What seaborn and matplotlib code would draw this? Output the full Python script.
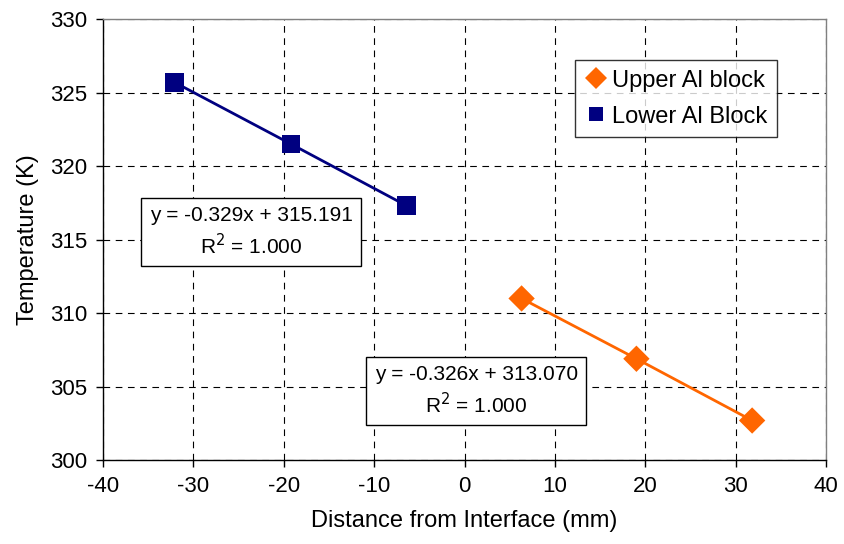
import matplotlib
matplotlib.use("Agg")
import matplotlib.pyplot as plt
import seaborn as sns
import pandas as pd

upper_x = [6.3, 19.0, 31.8]
upper_y = [311.0, 306.9, 302.7]
lower_x = [-32.1, -19.2, -6.4]
lower_y = [325.7, 321.5, 317.3]
series_names = ["Upper Al block", "Lower Al Block"]
eq_upper = "y = -0.326x + 313.070\nR$^2$ = 1.000"
eq_lower = "y = -0.329x + 315.191\nR$^2$ = 1.000"

df = pd.concat([
    pd.DataFrame({"x": upper_x, "y": upper_y, "s": series_names[0]}),
    pd.DataFrame({"x": lower_x, "y": lower_y, "s": series_names[1]}),
])

sns.set_style("white")
plt.rcParams['font.family'] = ['Liberation Sans', 'DejaVu Sans']
plt.rcParams['axes.unicode_minus'] = False
plt.rcParams['text.color'] = 'black'
plt.rcParams['axes.labelcolor'] = 'black'
plt.rcParams['xtick.color'] = 'black'
plt.rcParams['ytick.color'] = 'black'

fig = plt.figure(figsize=(8.44, 5.44), dpi=100)
ax = fig.add_axes([0.122, 0.154, 0.857, 0.811])

palette = {series_names[0]: "#FF6600", series_names[1]: "#000080"}
sns.lineplot(data=df, x="x", y="y", hue="s", palette=palette, ax=ax,
             linewidth=2, legend=False, sort=True)
sns.scatterplot(data=df, x="x", y="y", hue="s", style="s",
                markers={series_names[0]: "D", series_names[1]: "s"},
                palette=palette, s=180, ax=ax, edgecolor="none",
                linewidth=0, zorder=5)

ax.set_xlim(-40, 40)
ax.set_ylim(300, 330)
ax.set_xticks(range(-40, 41, 10))
ax.set_yticks(range(300, 331, 5))
ax.grid(True, color="black", linestyle=(0, (6, 5)), linewidth=0.8)
ax.tick_params(axis="both", labelsize=16, direction="out", length=5,
               width=1, color="black", bottom=True, left=True, pad=6)
for s in ["left", "bottom"]:
    ax.spines[s].set_color("black")
    ax.spines[s].set_linewidth(1)
for s in ["top", "right"]:
    ax.spines[s].set_color("#808080")
    ax.spines[s].set_linewidth(1)
ax.set_xlabel("Distance from Interface (mm)", fontsize=17, labelpad=10)
ax.set_ylabel("Temperature (K)", fontsize=17, labelpad=8)

handles, labels = ax.get_legend_handles_labels()
leg = ax.legend(handles, labels, loc="upper right", bbox_to_anchor=(0.932, 0.907),
                borderaxespad=0, fontsize=17, frameon=True, fancybox=False,
                edgecolor="black", handletextpad=0.2, borderpad=0.4,
                labelspacing=0.6, handlelength=1.0, markerscale=0.8)
leg.get_frame().set_linewidth(1)

box = dict(boxstyle="square,pad=0.4", facecolor="white", edgecolor="black", linewidth=1)
ax.text(-23.6, 315.5, eq_lower, ha="center", va="center", fontsize=15,
        bbox=box, linespacing=1.35, zorder=6)
ax.text(1.3, 304.7, eq_upper, ha="center", va="center", fontsize=15,
        bbox=box, linespacing=1.35, zorder=6)

fig.savefig("out.png", dpi=100, facecolor="white")
